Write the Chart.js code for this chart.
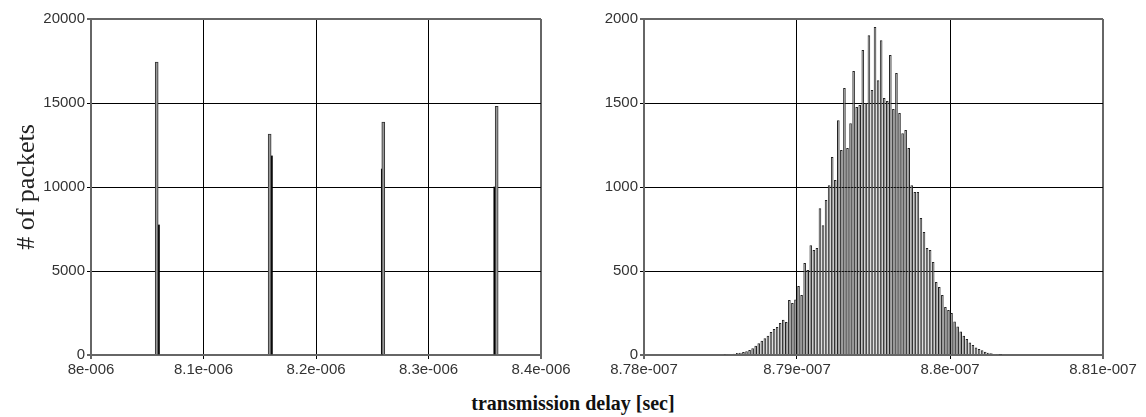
<!DOCTYPE html>
<html>
<head>
<meta charset="utf-8">
<script src="https://cdn.jsdelivr.net/npm/chart.js@4.4.1/dist/chart.umd.min.js"></script>
<style>
  body { margin: 0; background: #fff; }
  #wrap { position: relative; width: 1146px; height: 417px; }
  .box { position: absolute; top: 0; }
  #xtitle {
    position: absolute; left: 0; width: 1146px; top: 392px;
    text-align: center; font: bold 20px "Liberation Serif", serif; color: #111;
  }
</style>
</head>
<body>
<div id="wrap">
  <div class="box" style="left:0px;width:600px;height:390px"><canvas id="leftChart" width="600" height="390"></canvas></div>
  <div class="box" style="left:560px;width:586px;height:390px"><canvas id="rightChart" width="586" height="390"></canvas></div>
  <div id="xtitle">transmission delay [sec]</div>
</div>
<script>
// left panel: 4 clusters, each a wide bin and a narrow bin next to it
const leftWideDelays = [8.0584e-6, 8.1588e-6, 8.2598e-6, 8.3606e-6]
const leftWideCounts = [17440, 13150, 13870, 14800]
const leftNarrowDelays = [8.0602e-6, 8.1606e-6, 8.2587e-6, 8.3587e-6]
const leftNarrowCounts = [7740, 11850, 11070, 10000]
const leftYTicks = [0, 5000, 10000, 15000, 20000]

// right panel: histogram around 8.795e-7 sec
const rightBinStart = 8.7853e-7
const rightBinWidth = 2e-11
const rightCounts = [
  3, 4, 6, 8, 12, 14, 18, 22, 30, 40,
  55, 70, 85, 100, 115, 137, 155, 167, 190, 210,
  196, 327, 309, 330, 410, 357, 547, 506, 654, 625,
  637, 874, 773, 922, 1010, 1178, 1041, 1398, 1220, 1589,
  1232, 1380, 1690, 1476, 1488, 1815, 1500, 1904, 1577, 1952,
  1636, 1874, 1530, 1512, 1785, 1465, 1678, 1440, 1320, 1339,
  1232, 1011, 970, 970, 815, 732, 637, 625, 553, 434,
  405, 357, 286, 268, 250, 200, 170, 140, 115, 95,
  75, 60, 45, 35, 28, 20, 14, 10, 6, 4, 2
]
const rightYTicks = [0, 500, 1000, 1500, 2000]

function expLabel(v) {
  let s = Number(v.toPrecision(6)).toExponential()
  return s.replace(/e([+-])(\d+)$/, (m, sg, d) => 'e' + sg + d.padStart(3, '0'))
}

const tickFont = { family: 'Liberation Sans, Arial, sans-serif', size: 15 }
const tickColor = '#333'
const frameColor = '#666'

function edgeColor(last) {
  return ctx => (ctx.index === 0 || ctx.index === last) ? frameColor : '#000'
}
function edgeWidth(last) {
  return ctx => (ctx.index === 0 || ctx.index === last) ? 2 : 1
}

function makeScales(o) {
  return {
    x: {
      type: 'linear', min: o.xmin, max: o.xmax, offset: false,
      afterFit: s => { s.height = 35 },
      ticks: { stepSize: o.xstep, font: tickFont, color: tickColor, padding: 2, maxRotation: 0,
        callback: v => expLabel(v) },
      grid: { offset: false, color: edgeColor(o.xcount - 1), lineWidth: edgeWidth(o.xcount - 1), tickLength: 4 },
      border: { color: frameColor, width: 2 }
    },
    y: {
      min: 0, max: o.ymax,
      afterFit: s => { s.width = o.yw },
      afterBuildTicks: s => { s.ticks = o.yticks.map(v => ({ value: v })) },
      ticks: { font: tickFont, color: tickColor, padding: 2, callback: v => String(v) },
      grid: { color: edgeColor(o.yticks.length - 1), lineWidth: edgeWidth(o.yticks.length - 1), tickLength: 4 },
      border: { color: frameColor, width: 2 },
      title: o.ytitle ? { display: true, text: o.ytitle, color: '#222',
        font: { family: 'Liberation Serif, serif', size: 26 }, padding: { top: 12, bottom: 0 } } : { display: false }
    }
  }
}

const common = {
  responsive: false,
  animation: false,
  plugins: { legend: { display: false }, tooltip: { enabled: false } }
}

new Chart(document.getElementById('leftChart'), {
  type: 'bar',
  data: {
    datasets: [
      {
        data: leftWideDelays.map((d, i) => ({ x: d, y: leftWideCounts[i] })),
        backgroundColor: '#999', borderColor: '#333', borderWidth: 1,
        barThickness: 3, grouped: false
      },
      {
        data: leftNarrowDelays.map((d, i) => ({ x: d, y: leftNarrowCounts[i] })),
        backgroundColor: '#000', borderWidth: 0,
        barThickness: 1.5, grouped: false
      }
    ]
  },
  options: Object.assign({}, common, {
    layout: { padding: { left: 0, right: 59, top: 19, bottom: 0 } },
    scales: makeScales({ xmin: 8.0e-6, xmax: 8.4e-6, xstep: 1e-7, xcount: 5,
      ymax: 20000, yticks: leftYTicks, yw: 91, ytitle: '# of packets' })
  })
})

new Chart(document.getElementById('rightChart'), {
  type: 'bar',
  data: {
    datasets: [{
      data: rightCounts.map((c, i) => ({ x: rightBinStart + i * rightBinWidth, y: c })),
      backgroundColor: '#8f8f8f', borderColor: '#222', borderWidth: 1,
      barPercentage: 1, categoryPercentage: 0.85
    }]
  },
  options: Object.assign({}, common, {
    layout: { padding: { left: 0, right: 43, top: 19, bottom: 0 } },
    scales: makeScales({ xmin: 8.78e-7, xmax: 8.81e-7, xstep: 1e-9, xcount: 4,
      ymax: 2000, yticks: rightYTicks, yw: 84 })
  })
})
</script>
</body>
</html>
